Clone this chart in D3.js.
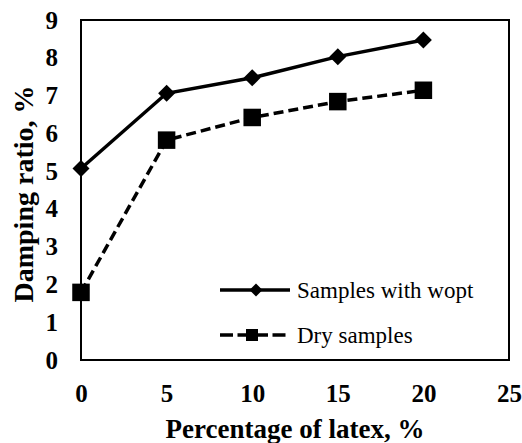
<!DOCTYPE html>
<html><head><meta charset="utf-8">
<script src="https://cdn.jsdelivr.net/npm/d3@7"></script>
</head><body style="margin:0;background:#fff">
<svg id="c" width="522" height="443" font-family="Liberation Serif"></svg>
<script>
const xValues = [0, 5, 10, 15, 20];
const woptValues = [5.07, 7.06, 7.47, 8.03, 8.47];
const dryValues = [1.79, 5.82, 6.42, 6.84, 7.14];
const xTicks = [0, 5, 10, 15, 20, 25];
const yTicks = [0, 1, 2, 3, 4, 5, 6, 7, 8, 9];
const seriesNames = ["Samples with wopt", "Dry samples"];
const FONT = "Liberation Serif";

const svg = d3.select("#c");
const L = 81, R = 509, T = 20, B = 360;
const x = d3.scaleLinear().domain([0, 25]).range([L, R]);
const y = d3.scaleLinear().domain([0, 9]).range([B, T]);

svg.append("rect").attr("x", L).attr("y", T).attr("width", R - L).attr("height", B - T)
  .attr("fill", "none").attr("stroke", "#000").attr("stroke-width", 2);

const xa = svg.append("g").attr("transform", `translate(0,${B})`)
  .call(d3.axisBottom(x).tickValues(xTicks).tickSize(0).tickPadding(24));
const ya = svg.append("g").attr("transform", `translate(${L},0)`)
  .call(d3.axisLeft(y).tickValues(yTicks).tickSize(0).tickPadding(23));
[xa, ya].forEach(g => {
  g.attr("font-family", FONT).attr("font-size", 25);
  g.select(".domain").remove();
  g.selectAll("text").attr("font-family", FONT).attr("font-weight", "bold")
    .attr("font-size", 25).attr("fill", "#000");
});

const line = d3.line().x((d, i) => x(xValues[i])).y(d => y(d));
svg.append("path").datum(woptValues).attr("d", line).attr("fill", "none")
  .attr("stroke", "#000").attr("stroke-width", 3.5);
svg.append("path").datum(dryValues).attr("d", line).attr("fill", "none")
  .attr("stroke", "#000").attr("stroke-width", 3.5).attr("stroke-dasharray", "10,5");

const diamond = (cx, cy, s) => `M${cx},${cy - s}L${cx + s},${cy}L${cx},${cy + s}L${cx - s},${cy}Z`;
svg.selectAll(".dm").data(woptValues).enter().append("path")
  .attr("d", (d, i) => diamond(x(xValues[i]), y(d), 8.5)).attr("fill", "#000");
svg.selectAll(".sq").data(dryValues).enter().append("rect")
  .attr("x", (d, i) => x(xValues[i]) - 8.75).attr("y", d => y(d) - 8.75)
  .attr("width", 17.5).attr("height", 17.5).attr("fill", "#000");

const lg = svg.append("g");
const ly = [290, 335];
lg.append("line").attr("x1", 220).attr("x2", 290).attr("y1", ly[0]).attr("y2", ly[0])
  .attr("stroke", "#000").attr("stroke-width", 3.5);
lg.append("path").attr("d", diamond(256, ly[0], 6.5)).attr("fill", "#000");
lg.append("line").attr("x1", 220).attr("x2", 290).attr("y1", ly[1]).attr("y2", ly[1])
  .attr("stroke", "#000").attr("stroke-width", 3.5).attr("stroke-dasharray", "13,4.5");
lg.append("rect").attr("x", 246).attr("y", ly[1] - 6).attr("width", 12).attr("height", 12).attr("fill", "#000");
seriesNames.forEach((n, i) => {
  lg.append("text").attr("x", 297).attr("y", ly[i]).attr("dy", "0.35em").attr("font-family", FONT)
    .attr("font-size", 23).attr("fill", "#000").text(n);
});

svg.append("text").attr("x", (L + R) / 2).attr("y", 438).attr("text-anchor", "middle").attr("font-family", FONT)
  .attr("font-weight", "bold").attr("font-size", 27).text("Percentage of latex, %");
svg.append("text").attr("transform", "translate(33,194) rotate(-90)").attr("text-anchor", "middle").attr("font-family", FONT)
  .attr("font-weight", "bold").attr("font-size", 28).text("Damping ratio, %");
</script>
</body></html>
